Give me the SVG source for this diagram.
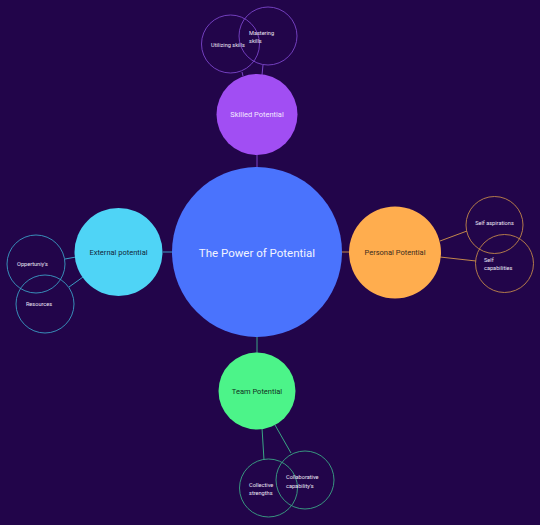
<svg xmlns="http://www.w3.org/2000/svg" width="540" height="525" viewBox="0 0 540 525">
<style>
.bg{fill:#22054a}
.main{font-family:Roboto,"Liberation Sans",sans-serif;text-anchor:middle;dominant-baseline:central}
.sub{font-family:Roboto,"Liberation Sans",sans-serif;font-size:5.6px;fill:#ece6f5}
.subc{text-anchor:middle;dominant-baseline:central}
.ring{fill:none;stroke-width:0.9}
.sk{stroke:#7b45c9}
.ex{stroke:#3a9cc4}
.pe{stroke:#c2874a}
.te{stroke:#3aa584}
.ln{stroke-width:1;fill:none}
</style>
<rect class="bg" x="0" y="0" width="540" height="525"/>
<g id="connectors">
<line class="ln sk" x1="257" y1="155" x2="257" y2="168"/>
<line class="ln sk" x1="242" y1="72" x2="243" y2="76"/>
<line class="ln sk" x1="263" y1="65" x2="262" y2="75"/>
<line class="ln pe" x1="341" y1="252" x2="350" y2="252"/>
<line class="ln pe" x1="440" y1="241" x2="467" y2="231"/>
<line class="ln pe" x1="440" y1="257" x2="476" y2="261"/>
<line class="ln ex" x1="163" y1="252" x2="173" y2="252"/>
<line class="ln ex" x1="65" y1="259" x2="76" y2="257"/>
<line class="ln ex" x1="69" y1="287" x2="83" y2="277"/>
<line class="ln te" x1="257" y1="337" x2="257" y2="353"/>
<line class="ln te" x1="262" y1="428" x2="264" y2="460"/>
<line class="ln te" x1="275" y1="425" x2="291" y2="453"/>
</g>
<g id="center">
<circle cx="257" cy="252" r="85" fill="#4a73fd"/>
<text class="main" x="257" y="253" font-size="11.5" fill="#f2f4ff">The Power of Potential</text>
</g>
<g id="skilled">
<circle cx="257" cy="114.5" r="40.5" fill="#a14ef3"/>
<text class="main" x="257" y="114.5" font-size="7.5" fill="#f3e8ff">Skilled Potential</text>
</g>
<g id="personal">
<circle cx="395" cy="252.5" r="46" fill="#ffad4e"/>
<text class="main" x="395" y="252.5" font-size="7.5" fill="#3b2a1c">Personal Potential</text>
</g>
<g id="external">
<circle cx="118.5" cy="252" r="44" fill="#4fd4f6"/>
<text class="main" x="118.5" y="252" font-size="7.5" fill="#10283a">External potential</text>
</g>
<g id="team">
<circle cx="257" cy="391" r="38.5" fill="#4cf489"/>
<text class="main" x="257" y="391" font-size="7.5" fill="#10301e">Team Potential</text>
</g>
<g id="utilizing-skills">
<circle class="ring sk" cx="230.5" cy="44" r="29"/>
<text class="sub subc" x="228" y="45">Utilizing skills</text>
</g>
<g id="mastering-skills">
<circle class="ring sk" cx="268" cy="36" r="29"/>
<text class="sub" x="249" y="35">Mastering</text>
<text class="sub" x="249" y="43">skills</text>
</g>
<g id="opportunys">
<circle class="ring ex" cx="36" cy="264" r="29"/>
<text class="sub subc" x="32.5" y="264">Oppertuniy's</text>
</g>
<g id="resources">
<circle class="ring ex" cx="45" cy="304" r="29"/>
<text class="sub subc" x="39" y="304">Resources</text>
</g>
<g id="self-aspirations">
<circle class="ring pe" cx="494.5" cy="225" r="28.5"/>
<text class="sub subc" x="494.5" y="223">Self aspirations</text>
</g>
<g id="self-capabilities">
<circle class="ring pe" cx="504.5" cy="263.5" r="29"/>
<text class="sub" x="484" y="262">Self</text>
<text class="sub" x="484" y="270">capabilities</text>
</g>
<g id="collective-strengths">
<circle class="ring te" cx="268.5" cy="488" r="29"/>
<text class="sub" x="249" y="487">Collective</text>
<text class="sub" x="249" y="495">strengths</text>
</g>
<g id="collaborative">
<circle class="ring te" cx="305" cy="480" r="29"/>
<text class="sub" x="286" y="479">Collaborative</text>
<text class="sub" x="286" y="488">capability's</text>
</g>
</svg>
